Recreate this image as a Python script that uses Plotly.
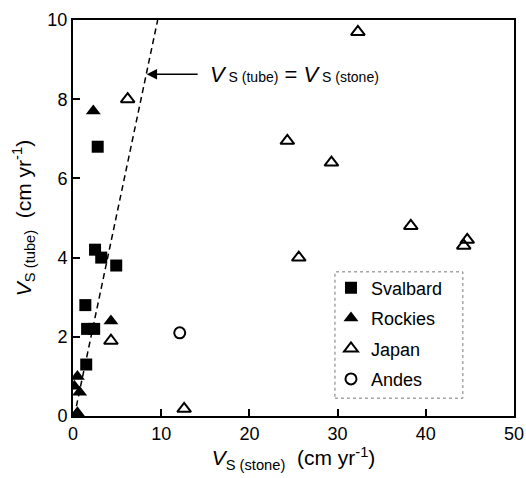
import plotly.graph_objects as go

# Data
svalbard_x = [2.8, 2.5, 3.2, 4.9, 1.4, 1.6, 2.4, 1.5]
svalbard_y = [6.8, 4.2, 4.0, 3.8, 2.8, 2.2, 2.2, 1.3]
rockies_x = [2.3, 4.3, 0.5, 0.15, 0.75, 0.5]
rockies_y = [7.7, 2.4, 1.0, 0.75, 0.6, 0.08]
japan_x = [32.3, 6.2, 24.3, 29.3, 38.3, 25.6, 44.7, 44.3, 4.3, 12.6]
japan_y = [9.7, 8.0, 6.95, 6.4, 4.8, 4.0, 4.45, 4.3, 1.9, 0.18]
andes_x = [12.1]
andes_y = [2.1]
line_x = [0.15, 9.6]
line_y = [0.0, 10.0]
x_ticks = [0, 10, 20, 30, 40, 50]
y_ticks = [0, 2, 4, 6, 8, 10]

FONT = "Liberation Sans, Arial, sans-serif"

fig = go.Figure()
fig.add_trace(go.Scatter(x=line_x, y=line_y, mode="lines",
                         line=dict(color="black", width=1.5, dash="6px,4px"),
                         showlegend=False, hoverinfo="skip"))
fig.add_trace(go.Scatter(x=svalbard_x, y=svalbard_y, mode="markers", name="Svalbard",
                         legendgroup="a",
                         marker=dict(symbol="square", size=12, color="black")))
fig.add_trace(go.Scatter(x=rockies_x, y=rockies_y, mode="markers", name="Rockies",
                         legendgroup="b",
                         marker=dict(symbol="triangle-up", size=13, color="black")))
fig.add_trace(go.Scatter(x=japan_x, y=japan_y, mode="markers", name="Japan",
                         legendgroup="c",
                         marker=dict(symbol="triangle-up-open", size=12, color="black",
                                     line=dict(width=2, color="black"))))
fig.add_trace(go.Scatter(x=andes_x, y=andes_y, mode="markers", name="Andes",
                         legendgroup="d",
                         marker=dict(symbol="circle-open", size=11, color="black",
                                     line=dict(width=2, color="black"))))

# Arrow annotation
fig.add_annotation(x=8.35, y=8.63, ax=14.3, ay=8.63, xref="x", yref="y",
                   axref="x", ayref="y", text="", showarrow=True,
                   arrowhead=2, arrowsize=1.6, arrowwidth=1.3, arrowcolor="black")
fig.add_annotation(x=15.3, y=8.63, xref="x", yref="y", showarrow=False,
                   xanchor="left", yanchor="middle",
                   text="<i>V</i><span style='font-size:14px'> S (tube)</span> = "
                        "<i>V</i><span style='font-size:14px'> S (stone)</span>",
                   font=dict(family=FONT, size=22, color="black"))

# Dotted legend frame
fig.add_shape(type="rect", xref="paper", yref="paper",
              x0=0.594, x1=0.884, y0=0.045, y1=0.364,
              line=dict(color="#777777", width=1, dash="dot"))

axis_common = dict(showline=True, linecolor="black", linewidth=2, mirror=True,
                   ticks="inside", ticklen=7, tickwidth=1.5, tickcolor="black",
                   showgrid=False, zeroline=False, automargin=False,
                   tickfont=dict(family=FONT, size=18, color="black"))

fig.update_xaxes(range=[0, 50], tickvals=x_ticks, **axis_common,
                 title=dict(text="<i>V</i><sub>S (stone)</sub>  (cm yr<sup>-1</sup>)",
                            font=dict(family=FONT, size=21, color="black"), standoff=8))
fig.update_yaxes(range=[0, 10], tickvals=y_ticks, **axis_common,
                 title=dict(text="<i>V</i><sub>S (tube)</sub>  (cm yr<sup>-1</sup>)",
                            font=dict(family=FONT, size=21, color="black"), standoff=10))

fig.update_layout(
    width=526, height=478,
    margin=dict(l=73, r=12, t=20, b=62),
    paper_bgcolor="white", plot_bgcolor="white",
    font=dict(family=FONT, color="black"),
    legend=dict(x=0.585, y=0.37, xanchor="left", yanchor="top",
                bgcolor="rgba(0,0,0,0)", borderwidth=0,
                font=dict(family=FONT, size=18, color="black"),
                tracegroupgap=4, itemsizing="trace"),
)

fig.write_html("out.html")
